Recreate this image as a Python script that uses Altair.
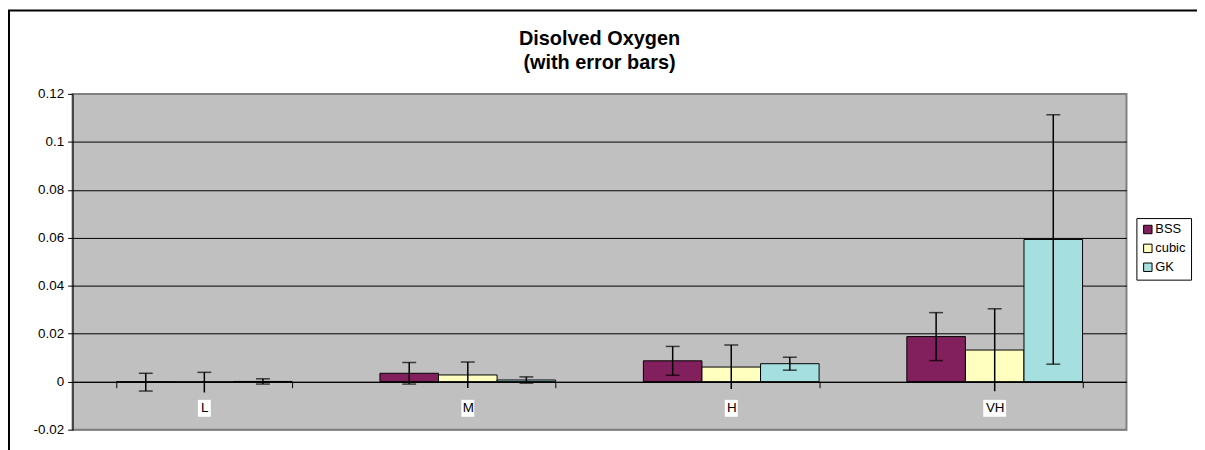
import altair as alt
import pandas as pd

categories = ["L", "M", "H", "VH"]
series = ["BSS", "cubic", "GK"]
bss = [-0.0002, 0.0035, 0.0087, 0.0188]
bss_err = [0.0037, 0.0045, 0.0060, 0.0100]
cubic = [-0.0003, 0.0028, 0.0061, 0.0132]
cubic_err = [0.0042, 0.0054, 0.0092, 0.0172]
gk = [0.0001, 0.0007, 0.0075, 0.0593]
gk_err = [0.0011, 0.0013, 0.0027, 0.0520]
colors = ["#82205E", "#FFFFC0", "#A6DFDF"]
y_ticks = [-0.02, 0.0, 0.02, 0.04, 0.06, 0.08, 0.1, 0.12]
title_lines = ["Disolved Oxygen", "(with error bars)"]

rows = []
for name, vals, errs in zip(series, [bss, cubic, gk], [bss_err, cubic_err, gk_err]):
    for c, v, e in zip(categories, vals, errs):
        rows.append({"cat": c, "series": name, "value": v, "lo": v - e, "hi": v + e})
df = pd.DataFrame(rows)

W, H = 1061, 338
FONT = "Liberation Sans"

x_enc = alt.X(
    "cat:N", sort=categories,
    scale=alt.Scale(paddingInner=0.333, paddingOuter=0.1667),
    axis=alt.Axis(title=None, labelAngle=0, offset=-48.3, tickBand="extent",
                  tickSize=6, tickColor="black", domainColor="black", domainWidth=1,
                  labelColor="black", labelFont=FONT, labelFontSize=13.5,
                  labelPadding=13, zindex=1, grid=False),
)
xo_enc = alt.XOffset("series:N", sort=series, scale=alt.Scale(paddingInner=0, paddingOuter=0))
y_scale = alt.Scale(domain=[-0.02, 0.12], nice=False, zero=False)

base = alt.Chart(df)

bars = base.mark_bar(stroke="black", strokeWidth=1).encode(
    x=x_enc,
    xOffset=xo_enc,
    y=alt.Y("value:Q", scale=y_scale,
            axis=alt.Axis(title=None, values=y_ticks,
                          labelExpr="'' + round(datum.value * 100) / 100",
                          labelFont=FONT, labelFontSize=13.5, labelColor="black",
                          tickColor="black", tickSize=5, domainColor="black",
                          grid=True,
                          gridColor={"condition": {"test": "datum.value > 0.119 || datum.value < -0.019", "value": "#808080"}, "value": "black"},
                          gridWidth=1, gridOpacity=1, labelPadding=4)),
    y2=alt.datum(0),
    color=alt.Color("series:N", sort=series,
                    scale=alt.Scale(domain=series, range=colors),
                    legend=alt.Legend(title=None, orient="none", legendX=1071, legendY=125,
                                      fillColor="white", strokeColor="black", padding=5,
                                      symbolType="square", symbolSize=72,
                                      symbolStrokeColor="black", symbolStrokeWidth=1,
                                      symbolOpacity=1, labelFont=FONT, labelFontSize=13,
                                      labelColor="black", rowPadding=5, labelOffset=1)),
)

rules = base.mark_rule(color="black", strokeWidth=1.5).encode(
    x=alt.X("cat:N", sort=categories),
    xOffset=alt.XOffset("series:N", sort=series),
    y=alt.Y("lo:Q", scale=y_scale),
    y2="hi:Q",
)

caps_top = base.mark_tick(color="black", thickness=1.5, size=14, orient="horizontal").encode(
    x=alt.X("cat:N", sort=categories),
    xOffset=alt.XOffset("series:N", sort=series),
    y=alt.Y("hi:Q", scale=y_scale),
)
caps_bot = base.transform_filter("datum.series != 'cubic'").mark_tick(
    color="black", thickness=1.5, size=14, orient="horizontal").encode(
    x=alt.X("cat:N", sort=categories),
    xOffset=alt.XOffset("series:N", sort=series),
    y=alt.Y("lo:Q", scale=y_scale),
)

label_boxes = alt.Chart(pd.DataFrame({"cat": categories})).transform_calculate(
    w="length(datum.cat) * 10 + 3"
).mark_bar(color="white").encode(
    x=alt.X("cat:N", sort=categories),
    y=alt.value(308),
    y2=alt.value(325),
    size=alt.Size("w:Q", scale=None, legend=None),
)

frame = alt.Chart(pd.DataFrame({"k": [0]})).mark_rect(
    fill="white", fillOpacity=0, stroke="black", strokeWidth=2
).encode(
    x=alt.value(-64), x2=alt.value(1300), y=alt.value(-84), y2=alt.value(500)
)

one = pd.DataFrame({"k": [0]})
title1 = alt.Chart(one).mark_text(
    text=title_lines[0], font=FONT, fontSize=20, fontWeight="bold", color="black",
    align="center", baseline="middle"
).encode(x=alt.value(W / 2), y=alt.value(-55))
title2 = alt.Chart(one).mark_text(
    text=title_lines[1], font=FONT, fontSize=20, fontWeight="bold", color="black",
    align="center", baseline="middle"
).encode(x=alt.value(W / 2), y=alt.value(-31))

chart = alt.layer(frame, bars, label_boxes, rules, caps_top, caps_bot, title1, title2).properties(
    width=W, height=H,
    background="white",
    padding={"left": 65, "top": 85, "right": 71, "bottom": 19},
    autosize=alt.AutoSizeParams(type="none"),
).configure_view(
    fill="#C0C0C0", stroke="#808080", strokeWidth=2
)

chart.save("out.html", embed_options={"renderer": "svg", "actions": False})
